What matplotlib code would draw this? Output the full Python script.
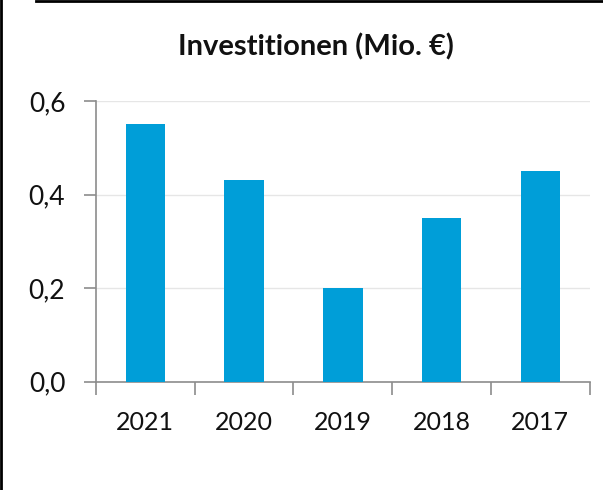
import numpy as np
import matplotlib.pyplot as plt
from matplotlib.lines import Line2D
from matplotlib.ticker import FuncFormatter

years = ['2021', '2020', '2019', '2018', '2017']
invest = [0.55, 0.43, 0.20, 0.35, 0.45]
yticks = [0.0, 0.2, 0.4, 0.6]

plt.rcParams['font.family'] = ['Lato', 'DejaVu Sans']

fig = plt.figure(figsize=(6.03, 4.90), dpi=100)
ax = fig.add_axes([0.159, 0.221, 0.819, 0.573])

x = np.arange(len(years))
ax.bar(x, invest, width=0.4, color='#009ed8', zorder=3)

ax.set_xlim(-0.5, len(years) - 0.5)
ax.set_ylim(0, 0.6)
ax.set_yticks(yticks)
ax.yaxis.set_major_formatter(FuncFormatter(lambda v, p: ('%.1f' % v).replace('.', ',')))
ax.set_xticks(x)
ax.set_xticklabels(years)
ax.set_xticks(np.arange(len(years) + 1) - 0.5, minor=True)

ax.grid(axis='y', color='#e6e6e6', linewidth=1, zorder=0)
for s in ['top', 'right']:
    ax.spines[s].set_visible(False)
for s in ['left', 'bottom']:
    ax.spines[s].set_color('#8c8c8c')
    ax.spines[s].set_linewidth(1.2)

ax.tick_params(axis='x', which='major', length=0, pad=21, labelsize=18, labelcolor='#111111')
ax.tick_params(axis='x', which='minor', length=9, width=1.2, color='#8c8c8c')
ax.tick_params(axis='y', length=9, width=1.2, color='#8c8c8c', pad=13, labelsize=19, labelcolor='#111111')

fig.text(0.524, 0.904, 'Investitionen (Mio. €)', ha='center', va='center',
         fontsize=21, fontweight='bold', color='#111111')

# frame lines (left and top edge)
fig.add_artist(Line2D([0.002, 0.002], [0, 1], color='black', linewidth=2, transform=fig.transFigure))
fig.add_artist(Line2D([0.06, 1], [0.998, 0.998], color='black', linewidth=2, transform=fig.transFigure))

fig.savefig('out.png', dpi=100)
